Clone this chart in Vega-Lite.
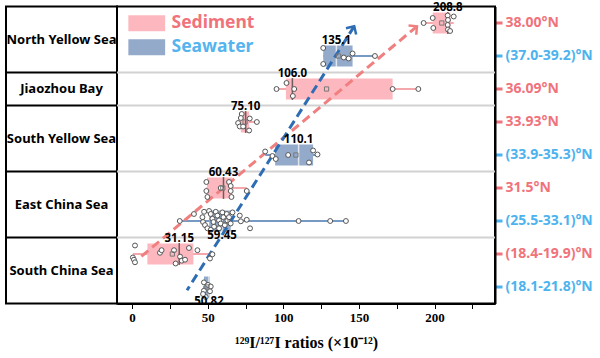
{
  "$schema": "https://vega.github.io/schema/vega-lite/v6.json",
  "padding": {"left": 4, "top": 0.5, "right": 0, "bottom": 0},
  "bounds": "flush",
  "spacing": 0,
  "config": {
    "view": {"stroke": "#000", "strokeWidth": 2},
    "font": "Noto Sans",
    "axisX": {
      "titleFont": "Liberation Serif", "titleFontSize": 16, "titleFontWeight": "bold", "titleColor": "#000", "titlePadding": 10,
      "labelFont": "Liberation Serif", "labelFontSize": 13, "labelFontWeight": "bold", "labelColor": "#000", "labelPadding": 3, "labelFlush": false,
      "tickColor": "#000", "tickSize": 5, "tickWidth": 1, "domainColor": "#000", "domainWidth": 2, "grid": false
    },
    "axisY": {
      "labelFont": "Noto Sans", "labelFontSize": 14, "labelFontWeight": "bold", "labelPadding": 3,
      "tickWidth": 3, "tickSize": 7, "domainColor": "#000", "domainWidth": 2, "grid": false
    }
  },
  "datasets": {
    "bounds": [{"lat": "36.09°N"}, {"lat": "33.93°N"}, {"lat": "31.5°N"}, {"lat": "(18.4-19.9)°N"}],
    "regions": [
      {"region": "North Yellow Sea", "lat": "38.00°N", "rows": 2},
      {"region": "Jiaozhou Bay", "lat": "36.09°N", "rows": 1},
      {"region": "South Yellow Sea", "lat": "33.93°N", "rows": 2},
      {"region": "East China Sea", "lat": "31.5°N", "rows": 2},
      {"region": "South China Sea", "lat": "(18.4-19.9)°N", "rows": 2}
    ],
    "boxes": [
      {"region": "North Yellow Sea", "type": "Sediment", "lat": "38.00°N", "min": 192.8, "q1": 198.8, "median": 208.8, "q3": 210.5, "max": 212.7, "mean": 204.8, "label": "208.8"},
      {"region": "North Yellow Sea", "type": "Seawater", "lat": "(37.0-39.2)°N", "min": 126.4, "q1": 126.4, "median": 135.1, "q3": 145.8, "max": 160.6, "mean": 136.5, "label": "135.1"},
      {"region": "Jiaozhou Bay", "type": "Sediment", "lat": "36.09°N", "min": 95.5, "q1": 101.7, "median": 106.0, "q3": 172.3, "max": 189.3, "mean": 128.6, "label": "106.0"},
      {"region": "South Yellow Sea", "type": "Sediment", "lat": "33.93°N", "min": 70.1, "q1": 71.9, "median": 75.1, "q3": 77.4, "max": 82.5, "mean": 74.7, "label": "75.10"},
      {"region": "South Yellow Sea", "type": "Seawater", "lat": "(33.9-35.3)°N", "min": 88.0, "q1": 94.6, "median": 110.1, "q3": 119.7, "max": 122.6, "mean": 108.3, "label": "110.1"},
      {"region": "East China Sea", "type": "Sediment", "lat": "31.5°N", "min": 49.1, "q1": 49.5, "median": 60.43, "q3": 66.0, "max": 75.8, "mean": 60.0, "label": "60.43"},
      {"region": "East China Sea", "type": "Seawater", "lat": "(25.5-33.1)°N", "min": 31.5, "q1": 51.0, "median": 59.45, "q3": 65.2, "max": 141.4, "mean": 62.0, "label": "59.45"},
      {"region": "South China Sea", "type": "Sediment", "lat": "(18.4-19.9)°N", "min": 0.5, "q1": 10.1, "median": 31.15, "q3": 40.5, "max": 53.1, "mean": 26.6, "label": "31.15"},
      {"region": "South China Sea", "type": "Seawater", "lat": "(18.1-21.8)°N", "min": 46.9, "q1": 47.5, "median": 50.82, "q3": 51.5, "max": 52.0, "mean": 49.5, "label": "50.82"}
    ],
    "trends": [
      {"trend": "Sediment", "end": "tail", "lat": "(18.4-19.9)°N", "x": 5.4},
      {"trend": "Sediment", "end": "head", "lat": "38.00°N", "x": 188.4},
      {"trend": "Seawater", "end": "tail", "lat": "(18.1-21.8)°N", "x": 36.3},
      {"trend": "Seawater", "end": "head", "lat": "38.00°N", "x": 146.9}
    ],
    "points": [
      {"lat": "38.00°N", "value": 192.8, "j": 0}, {"lat": "38.00°N", "value": 198.8, "j": -0.5}, {"lat": "38.00°N", "value": 199.2, "j": 0.5},
      {"lat": "38.00°N", "value": 208.7, "j": -0.75}, {"lat": "38.00°N", "value": 208.9, "j": -0.3}, {"lat": "38.00°N", "value": 208.7, "j": 0.2},
      {"lat": "38.00°N", "value": 208.9, "j": 0.65}, {"lat": "38.00°N", "value": 212.7, "j": -0.65}, {"lat": "38.00°N", "value": 210.3, "j": 0.8},
      {"lat": "(37.0-39.2)°N", "value": 126.4, "j": -0.8}, {"lat": "(37.0-39.2)°N", "value": 126.4, "j": 0.8}, {"lat": "(37.0-39.2)°N", "value": 140.0, "j": 0.15},
      {"lat": "(37.0-39.2)°N", "value": 143.2, "j": 0.25}, {"lat": "(37.0-39.2)°N", "value": 145.8, "j": -0.25}, {"lat": "(37.0-39.2)°N", "value": 160.6, "j": 0},
      {"lat": "36.09°N", "value": 95.5, "j": 0}, {"lat": "36.09°N", "value": 102.1, "j": -0.6}, {"lat": "36.09°N", "value": 107.2, "j": 0},
      {"lat": "36.09°N", "value": 106.3, "j": 0.7}, {"lat": "36.09°N", "value": 172.3, "j": 0}, {"lat": "36.09°N", "value": 189.3, "j": 0},
      {"lat": "33.93°N", "value": 72.5, "j": -0.8}, {"lat": "33.93°N", "value": 71.9, "j": -0.4}, {"lat": "33.93°N", "value": 70.1, "j": 0.1},
      {"lat": "33.93°N", "value": 71.2, "j": 0.45}, {"lat": "33.93°N", "value": 77.8, "j": -0.35}, {"lat": "33.93°N", "value": 82.5, "j": 0},
      {"lat": "33.93°N", "value": 77.4, "j": 0.85}, {"lat": "33.93°N", "value": 73.4, "j": 0.45},
      {"lat": "(33.9-35.3)°N", "value": 88.0, "j": -0.35}, {"lat": "(33.9-35.3)°N", "value": 92.8, "j": 0.1}, {"lat": "(33.9-35.3)°N", "value": 95.0, "j": 0.4},
      {"lat": "(33.9-35.3)°N", "value": 103.2, "j": 0}, {"lat": "(33.9-35.3)°N", "value": 119.7, "j": -0.45}, {"lat": "(33.9-35.3)°N", "value": 122.6, "j": -0.05},
      {"lat": "(33.9-35.3)°N", "value": 117.0, "j": 0.75},
      {"lat": "31.5°N", "value": 49.1, "j": -0.6}, {"lat": "31.5°N", "value": 49.1, "j": 0.3}, {"lat": "31.5°N", "value": 49.8, "j": 0.9},
      {"lat": "31.5°N", "value": 58.6, "j": 0}, {"lat": "31.5°N", "value": 64.1, "j": -0.6}, {"lat": "31.5°N", "value": 65.2, "j": -0.2},
      {"lat": "31.5°N", "value": 65.2, "j": 0.3}, {"lat": "31.5°N", "value": 65.7, "j": 0.9}, {"lat": "31.5°N", "value": 75.8, "j": 0.3},
      {"lat": "(25.5-33.1)°N", "value": 31.5, "j": 0}, {"lat": "(25.5-33.1)°N", "value": 40.9, "j": -0.7}, {"lat": "(25.5-33.1)°N", "value": 46.5, "j": -0.38},
      {"lat": "(25.5-33.1)°N", "value": 46.9, "j": 0.1}, {"lat": "(25.5-33.1)°N", "value": 48.2, "j": 0.41}, {"lat": "(25.5-33.1)°N", "value": 47.6, "j": -0.92},
      {"lat": "(25.5-33.1)°N", "value": 50.9, "j": -1.0}, {"lat": "(25.5-33.1)°N", "value": 52.0, "j": -0.7}, {"lat": "(25.5-33.1)°N", "value": 53.1, "j": -0.22},
      {"lat": "(25.5-33.1)°N", "value": 53.8, "j": 0.1}, {"lat": "(25.5-33.1)°N", "value": 54.2, "j": 0.57}, {"lat": "(25.5-33.1)°N", "value": 55.3, "j": -0.92},
      {"lat": "(25.5-33.1)°N", "value": 56.4, "j": -0.54}, {"lat": "(25.5-33.1)°N", "value": 57.5, "j": -0.06}, {"lat": "(25.5-33.1)°N", "value": 58.6, "j": 0.25},
      {"lat": "(25.5-33.1)°N", "value": 59.7, "j": -0.86}, {"lat": "(25.5-33.1)°N", "value": 60.4, "j": -0.38}, {"lat": "(25.5-33.1)°N", "value": 61.3, "j": 0.41},
      {"lat": "(25.5-33.1)°N", "value": 62.6, "j": -0.7}, {"lat": "(25.5-33.1)°N", "value": 63.0, "j": -0.06}, {"lat": "(25.5-33.1)°N", "value": 64.1, "j": -0.38},
      {"lat": "(25.5-33.1)°N", "value": 65.2, "j": 0.25}, {"lat": "(25.5-33.1)°N", "value": 66.4, "j": -0.86}, {"lat": "(25.5-33.1)°N", "value": 71.2, "j": -0.54},
      {"lat": "(25.5-33.1)°N", "value": 71.9, "j": 0.03}, {"lat": "(25.5-33.1)°N", "value": 75.8, "j": -0.12}, {"lat": "(25.5-33.1)°N", "value": 78.0, "j": 0.73},
      {"lat": "(25.5-33.1)°N", "value": 110.1, "j": 0}, {"lat": "(25.5-33.1)°N", "value": 131.0, "j": 0}, {"lat": "(25.5-33.1)°N", "value": 141.4, "j": 0},
      {"lat": "(25.5-33.1)°N", "value": 49.8, "j": 0.73}, {"lat": "(25.5-33.1)°N", "value": 52.0, "j": 0.89}, {"lat": "(25.5-33.1)°N", "value": 57.5, "j": 0.73},
      {"lat": "(18.4-19.9)°N", "value": 1.9, "j": -0.85}, {"lat": "(18.4-19.9)°N", "value": 0.5, "j": 0.35}, {"lat": "(18.4-19.9)°N", "value": 1.2, "j": 0.57},
      {"lat": "(18.4-19.9)°N", "value": 1.9, "j": 0.83}, {"lat": "(18.4-19.9)°N", "value": 18.4, "j": -0.12}, {"lat": "(18.4-19.9)°N", "value": 19.5, "j": -0.38},
      {"lat": "(18.4-19.9)°N", "value": 27.7, "j": -0.38}, {"lat": "(18.4-19.9)°N", "value": 28.8, "j": 0.95}, {"lat": "(18.4-19.9)°N", "value": 31.7, "j": 0.26},
      {"lat": "(18.4-19.9)°N", "value": 32.8, "j": 0.67}, {"lat": "(18.4-19.9)°N", "value": 35.0, "j": 0.57}, {"lat": "(18.4-19.9)°N", "value": 37.6, "j": -0.6},
      {"lat": "(18.4-19.9)°N", "value": 43.2, "j": -0.38}, {"lat": "(18.4-19.9)°N", "value": 51.5, "j": 0.45}, {"lat": "(18.4-19.9)°N", "value": 53.1, "j": 0.03},
      {"lat": "(18.1-21.8)°N", "value": 47.5, "j": -0.46}, {"lat": "(18.1-21.8)°N", "value": 50.2, "j": -0.21}, {"lat": "(18.1-21.8)°N", "value": 52.0, "j": -0.05},
      {"lat": "(18.1-21.8)°N", "value": 51.5, "j": 0.43}, {"lat": "(18.1-21.8)°N", "value": 47.5, "j": 0.37}, {"lat": "(18.1-21.8)°N", "value": 48.7, "j": 1.0},
      {"lat": "(18.1-21.8)°N", "value": 46.9, "j": 0.7}
    ]
  },
  "hconcat": [
    {
      "width": 111,
      "height": 297,
      "layer": [
        {
          "data": {"name": "bounds"},
          "mark": {"type": "rule", "color": "#000", "strokeWidth": 2},
          "encoding": {
            "y": {"field": "lat", "type": "nominal", "bandPosition": 0, "title": null, "axis": null,
              "scale": {"type": "band", "domain": ["38.00°N", "(37.0-39.2)°N", "36.09°N", "33.93°N", "(33.9-35.3)°N", "31.5°N", "(25.5-33.1)°N", "(18.4-19.9)°N", "(18.1-21.8)°N"], "paddingInner": 0, "paddingOuter": 0}}
          }
        },
        {
          "data": {"name": "regions"},
          "transform": [{"filter": "datum.rows === 2"}],
          "mark": {"type": "text", "font": "Noto Sans", "fontWeight": "bold", "fontSize": 13, "color": "#000", "align": "center", "baseline": "middle"},
          "encoding": {
            "y": {"field": "lat", "type": "nominal", "bandPosition": 1, "title": null, "axis": null,
              "scale": {"type": "band", "domain": ["38.00°N", "(37.0-39.2)°N", "36.09°N", "33.93°N", "(33.9-35.3)°N", "31.5°N", "(25.5-33.1)°N", "(18.4-19.9)°N", "(18.1-21.8)°N"], "paddingInner": 0, "paddingOuter": 0}},
            "text": {"field": "region"}
          }
        },
        {
          "data": {"name": "regions"},
          "transform": [{"filter": "datum.rows === 1"}],
          "mark": {"type": "text", "font": "Noto Sans", "fontWeight": "bold", "fontSize": 13, "color": "#000", "align": "center", "baseline": "middle"},
          "encoding": {
            "y": {"field": "lat", "type": "nominal", "bandPosition": 0.5, "title": null, "axis": null,
              "scale": {"type": "band", "domain": ["38.00°N", "(37.0-39.2)°N", "36.09°N", "33.93°N", "(33.9-35.3)°N", "31.5°N", "(25.5-33.1)°N", "(18.4-19.9)°N", "(18.1-21.8)°N"], "paddingInner": 0, "paddingOuter": 0}},
            "text": {"field": "region"}
          }
        }
      ]
    },
    {
      "width": 378,
      "height": 297,
      "encoding": {
        "y": {"field": "lat", "type": "nominal", "title": null,
          "scale": {"type": "band", "domain": ["38.00°N", "(37.0-39.2)°N", "36.09°N", "33.93°N", "(33.9-35.3)°N", "31.5°N", "(25.5-33.1)°N", "(18.4-19.9)°N", "(18.1-21.8)°N"], "paddingInner": 0, "paddingOuter": 0},
          "axis": {
            "orient": "right", "title": null,
            "labelColor": {"condition": {"test": "indexof(['38.00°N','36.09°N','33.93°N','31.5°N','(18.4-19.9)°N'], datum.value) >= 0", "value": "#F0737C"}, "value": "#4DB3EE"},
            "tickColor": {"condition": {"test": "indexof(['38.00°N','36.09°N','33.93°N','31.5°N','(18.4-19.9)°N'], datum.value) >= 0", "value": "#F0737C"}, "value": "#4DB3EE"}
          }}
      },
      "layer": [
        {
          "data": {"name": "boxes"},
          "mark": {"type": "rule", "strokeWidth": 1.5},
          "encoding": {
            "x": {"field": "min", "type": "quantitative", "title": "¹²⁹I/¹²⁷I ratios (×10⁻¹²)",
              "scale": {"domain": [-10, 240], "nice": false, "zero": false},
              "axis": {"values": [0, 25, 50, 75, 100, 125, 150, 175, 200, 225], "labelExpr": "datum.value % 50 === 0 ? datum.label : ''"}},
            "x2": {"field": "max"},
            "color": {"condition": {"test": "datum.type === 'Sediment'", "value": "#F28B91"}, "value": "#4A78B0"}
          }
        },
        {
          "data": {"name": "bounds"},
          "mark": {"type": "rule", "color": "#d2d2d2", "strokeWidth": 2},
          "encoding": {
            "y": {"field": "lat", "type": "nominal", "bandPosition": 0, "title": null,
              "scale": {"type": "band", "domain": ["38.00°N", "(37.0-39.2)°N", "36.09°N", "33.93°N", "(33.9-35.3)°N", "31.5°N", "(25.5-33.1)°N", "(18.4-19.9)°N", "(18.1-21.8)°N"], "paddingInner": 0, "paddingOuter": 0},
              "axis": {
                "orient": "right", "title": null,
                "labelColor": {"condition": {"test": "indexof(['38.00°N','36.09°N','33.93°N','31.5°N','(18.4-19.9)°N'], datum.value) >= 0", "value": "#F0737C"}, "value": "#4DB3EE"},
                "tickColor": {"condition": {"test": "indexof(['38.00°N','36.09°N','33.93°N','31.5°N','(18.4-19.9)°N'], datum.value) >= 0", "value": "#F0737C"}, "value": "#4DB3EE"}
              }}
          }
        },
        {
          "data": {"name": "boxes"},
          "mark": {"type": "bar", "size": 21, "opacity": 1},
          "encoding": {
            "x": {"field": "q1", "type": "quantitative", "title": "¹²⁹I/¹²⁷I ratios (×10⁻¹²)", "scale": {"domain": [-10, 240], "nice": false, "zero": false},
              "axis": {"values": [0, 25, 50, 75, 100, 125, 150, 175, 200, 225], "labelExpr": "datum.value % 50 === 0 ? datum.label : ''"}},
            "x2": {"field": "q3"},
            "color": {"field": "type", "type": "nominal",
              "scale": {"domain": ["Sediment", "Seawater"], "range": ["#FDB8BF", "#93AACA"]},
              "legend": {
                "title": null, "orient": "none", "legendX": 132, "legendY": 8,
                "symbolType": "M-2.3,-1L2.3,-1L2.3,1L-2.3,1Z", "symbolSize": 256, "symbolStrokeWidth": 0, "symbolOpacity": 1,
                "labelFont": "Noto Sans", "labelFontSize": 17.5, "labelFontWeight": "bold", "labelOffset": 16, "rowPadding": 5,
                "encode": {"labels": {"update": {"fill": {"signal": "datum.label === 'Sediment' ? '#F0737C' : '#55B4EE'"}}}}
              }}
          }
        },
        {
          "data": {"name": "boxes"},
          "mark": {"type": "tick", "thickness": 1.5, "size": 22},
          "encoding": {
            "x": {"field": "median", "type": "quantitative", "title": "¹²⁹I/¹²⁷I ratios (×10⁻¹²)", "scale": {"domain": [-10, 240], "nice": false, "zero": false},
              "axis": {"values": [0, 25, 50, 75, 100, 125, 150, 175, 200, 225], "labelExpr": "datum.value % 50 === 0 ? datum.label : ''"}},
            "color": {"condition": {"test": "datum.type === 'Sediment'", "value": "#333333"}, "value": "#ffffff"}
          }
        },
        {
          "data": {"name": "trends"},
          "mark": {"type": "line", "strokeWidth": 3, "strokeDash": [9, 5]},
          "encoding": {
            "x": {"field": "x", "type": "quantitative", "title": "¹²⁹I/¹²⁷I ratios (×10⁻¹²)", "scale": {"domain": [-10, 240], "nice": false, "zero": false},
              "axis": {"values": [0, 25, 50, 75, 100, 125, 150, 175, 200, 225], "labelExpr": "datum.value % 50 === 0 ? datum.label : ''"}},
            "y": {"field": "lat", "type": "nominal", "bandPosition": 0.6, "title": null,
              "scale": {"type": "band", "domain": ["38.00°N", "(37.0-39.2)°N", "36.09°N", "33.93°N", "(33.9-35.3)°N", "31.5°N", "(25.5-33.1)°N", "(18.4-19.9)°N", "(18.1-21.8)°N"], "paddingInner": 0, "paddingOuter": 0},
              "axis": {
                "orient": "right", "title": null,
                "labelColor": {"condition": {"test": "indexof(['38.00°N','36.09°N','33.93°N','31.5°N','(18.4-19.9)°N'], datum.value) >= 0", "value": "#F0737C"}, "value": "#4DB3EE"},
                "tickColor": {"condition": {"test": "indexof(['38.00°N','36.09°N','33.93°N','31.5°N','(18.4-19.9)°N'], datum.value) >= 0", "value": "#F0737C"}, "value": "#4DB3EE"}
              }},
            "detail": {"field": "trend"},
            "color": {"condition": {"test": "datum.trend === 'Sediment'", "value": "#F08080"}, "value": "#2E6DB4"}
          }
        },
        {
          "data": {"name": "trends"},
          "transform": [{"filter": "datum.end === 'head'"}],
          "mark": {"type": "point", "shape": "M-1,1L0,0L1,1", "filled": false, "size": 144, "strokeWidth": 2.5, "opacity": 1},
          "encoding": {
            "x": {"field": "x", "type": "quantitative", "title": "¹²⁹I/¹²⁷I ratios (×10⁻¹²)", "scale": {"domain": [-10, 240], "nice": false, "zero": false},
              "axis": {"values": [0, 25, 50, 75, 100, 125, 150, 175, 200, 225], "labelExpr": "datum.value % 50 === 0 ? datum.label : ''"}},
            "y": {"field": "lat", "type": "nominal", "bandPosition": 0.6, "title": null,
              "scale": {"type": "band", "domain": ["38.00°N", "(37.0-39.2)°N", "36.09°N", "33.93°N", "(33.9-35.3)°N", "31.5°N", "(25.5-33.1)°N", "(18.4-19.9)°N", "(18.1-21.8)°N"], "paddingInner": 0, "paddingOuter": 0},
              "axis": {
                "orient": "right", "title": null,
                "labelColor": {"condition": {"test": "indexof(['38.00°N','36.09°N','33.93°N','31.5°N','(18.4-19.9)°N'], datum.value) >= 0", "value": "#F0737C"}, "value": "#4DB3EE"},
                "tickColor": {"condition": {"test": "indexof(['38.00°N','36.09°N','33.93°N','31.5°N','(18.4-19.9)°N'], datum.value) >= 0", "value": "#F0737C"}, "value": "#4DB3EE"}
              }},
            "angle": {"condition": {"test": "datum.trend === 'Sediment'", "value": 50}, "value": 32},
            "color": {"condition": {"test": "datum.trend === 'Sediment'", "value": "#F08080"}, "value": "#2E6DB4"}
          }
        },
        {
          "data": {"name": "points"},
          "mark": {"type": "point", "shape": "circle", "filled": true, "fill": "#ffffff", "stroke": "#555555", "strokeWidth": 1, "size": 24, "opacity": 1},
          "encoding": {
            "x": {"field": "value", "type": "quantitative", "title": "¹²⁹I/¹²⁷I ratios (×10⁻¹²)", "scale": {"domain": [-10, 240], "nice": false, "zero": false},
              "axis": {"values": [0, 25, 50, 75, 100, 125, 150, 175, 200, 225], "labelExpr": "datum.value % 50 === 0 ? datum.label : ''"}},
            "yOffset": {"field": "j", "type": "quantitative", "scale": {"domain": [-1, 1], "range": [6.5, 26.5]}}
          }
        },
        {
          "data": {"name": "boxes"},
          "mark": {"type": "point", "shape": "square", "filled": false, "stroke": "#777777", "strokeWidth": 1, "size": 18, "opacity": 1},
          "encoding": {
            "x": {"field": "mean", "type": "quantitative", "title": "¹²⁹I/¹²⁷I ratios (×10⁻¹²)", "scale": {"domain": [-10, 240], "nice": false, "zero": false},
              "axis": {"values": [0, 25, 50, 75, 100, 125, 150, 175, 200, 225], "labelExpr": "datum.value % 50 === 0 ? datum.label : ''"}}
          }
        },
        {
          "data": {"name": "boxes"},
          "transform": [{"filter": "datum.lat !== '(25.5-33.1)°N' && datum.lat !== '(18.1-21.8)°N'"}],
          "mark": {"type": "text", "font": "Noto Sans", "fontWeight": "bold", "fontSize": 11.5, "color": "#000", "baseline": "bottom", "dy": -10},
          "encoding": {
            "x": {"field": "median", "type": "quantitative", "title": "¹²⁹I/¹²⁷I ratios (×10⁻¹²)", "scale": {"domain": [-10, 240], "nice": false, "zero": false},
              "axis": {"values": [0, 25, 50, 75, 100, 125, 150, 175, 200, 225], "labelExpr": "datum.value % 50 === 0 ? datum.label : ''"}},
            "text": {"field": "label"}
          }
        },
        {
          "data": {"name": "boxes"},
          "transform": [{"filter": "datum.lat === '(25.5-33.1)°N' || datum.lat === '(18.1-21.8)°N'"}],
          "mark": {"type": "text", "font": "Noto Sans", "fontWeight": "bold", "fontSize": 11.5, "color": "#000", "baseline": "top", "dy": 9},
          "encoding": {
            "x": {"field": "median", "type": "quantitative", "title": "¹²⁹I/¹²⁷I ratios (×10⁻¹²)", "scale": {"domain": [-10, 240], "nice": false, "zero": false},
              "axis": {"values": [0, 25, 50, 75, 100, 125, 150, 175, 200, 225], "labelExpr": "datum.value % 50 === 0 ? datum.label : ''"}},
            "text": {"field": "label"}
          }
        }
      ]
    }
  ]
}
